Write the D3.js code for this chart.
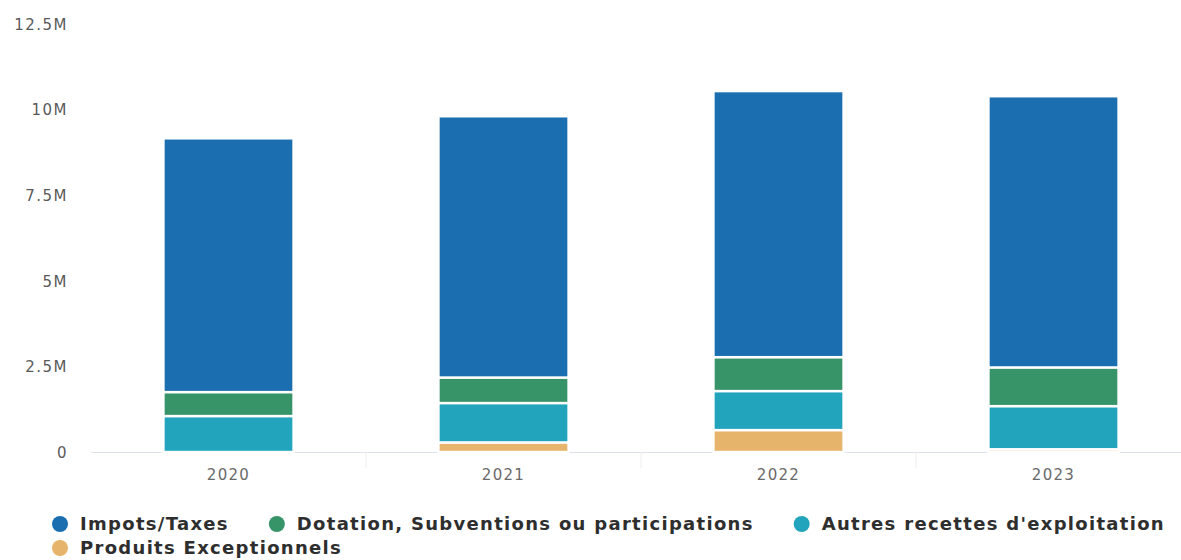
<!DOCTYPE html>
<html>
<head>
<meta charset="utf-8">
<script src="https://cdn.jsdelivr.net/npm/d3@7"></script>
<style>
  html, body { margin: 0; padding: 0; background: #fff; }
  svg { display: block; }
</style>
</head>
<body>
<svg id="chart" width="1181" height="560"></svg>
<script>
// ---- Data (values in euros) ----
const years = ["2020", "2021", "2022", "2023"];
const seriesNames = ["Produits Exceptionnels", "Autres recettes d'exploitation", "Dotation, Subventions ou participations", "Impots/Taxes"];
const produitsExceptionnels = [0, 280000, 640000, 80000];
const autresRecettes = [1050000, 1150000, 1140000, 1260000];
const dotations = [700000, 745000, 990000, 1130000];
const impotsTaxes = [7410000, 7630000, 7770000, 7920000];
const yTicks = [0, 2500000, 5000000, 7500000, 10000000, 12500000];
const legendOrder = ["Impots/Taxes", "Dotation, Subventions ou participations", "Autres recettes d'exploitation", "Produits Exceptionnels"];
const colors = {
  "Impots/Taxes": "#1b6fb0",
  "Dotation, Subventions ou participations": "#379468",
  "Autres recettes d'exploitation": "#22a4bd",
  "Produits Exceptionnels": "#e6b56b"
};

// table built from the arrays
const rows = years.map((y, i) => ({
  year: y,
  "Produits Exceptionnels": produitsExceptionnels[i],
  "Autres recettes d'exploitation": autresRecettes[i],
  "Dotation, Subventions ou participations": dotations[i],
  "Impots/Taxes": impotsTaxes[i]
}));

const svg = d3.select("#chart");
const zeroY = 452, topY = 24;
const y = d3.scaleLinear().domain([0, 12500000]).range([zeroY, topY]);
const x = d3.scaleBand().domain(years).range([91, 1191]).padding(0);
const barW = x.bandwidth() * 0.473;

// y axis labels
const yAxis = d3.axisLeft(y).tickValues(yTicks)
  .tickFormat(d => d === 0 ? "0" : (d / 1e6) + "M")
  .tickSize(0).tickPadding(0);
const gy = svg.append("g").attr("transform", "translate(68,0)").call(yAxis);
gy.select(".domain").remove();
gy.selectAll("text")
  .attr("font-family", "DejaVu Sans, sans-serif")
  .attr("font-size", 15)
  .attr("letter-spacing", "1.5px")
  .attr("fill", "#5a5a5a")
  .attr("dy", "0.35em");

// x axis
svg.append("line")
  .attr("x1", 91).attr("x2", 1181)
  .attr("y1", zeroY + 0.5).attr("y2", zeroY + 0.5)
  .attr("stroke", "#dde1e8").attr("stroke-width", 1.2);
years.slice(1).forEach(yr => {
  svg.append("line")
    .attr("x1", x(yr)).attr("x2", x(yr))
    .attr("y1", zeroY).attr("y2", zeroY + 16)
    .attr("stroke", "#eeeeee").attr("stroke-width", 1);
});
const xAxis = d3.axisBottom(x).tickSize(0).tickPadding(0);
const gx = svg.append("g").attr("transform", `translate(0,${zeroY + 23})`).call(xAxis);
gx.select(".domain").remove();
gx.selectAll("text")
  .attr("font-family", "DejaVu Sans, sans-serif")
  .attr("font-size", 15)
  .attr("letter-spacing", "1.3px")
  .attr("fill", "#6a6a6a")
  .attr("dy", "0.35em");

// stacked bars
const stack = d3.stack().keys(seriesNames);
const stacked = stack(rows);
svg.append("g").selectAll("g").data(stacked).join("g")
  .attr("fill", d => colors[d.key])
  .selectAll("rect").data(d => d).join("rect")
  .attr("x", d => x(d.data.year) + x.bandwidth() / 2 - barW / 2)
  .attr("width", barW)
  .attr("y", d => y(d[1]))
  .attr("height", d => Math.max(0, y(d[0]) - y(d[1])))
  .attr("stroke", "#ffffff")
  .attr("stroke-width", d => (d[1] - d[0]) > 0 ? 2.4 : 0);

// legend (flow layout)
const legend = svg.append("g");
let lx = 52, ly = 524;
const maxX = 1180;
legendOrder.forEach(name => {
  const g = legend.append("g");
  g.append("circle").attr("r", 8).attr("fill", colors[name]);
  const t = g.append("text")
    .attr("x", 20).attr("dy", "0.35em")
    .attr("font-family", "DejaVu Sans, sans-serif")
    .attr("font-weight", 700)
    .attr("font-size", 18)
    .attr("letter-spacing", "1.3px")
    .attr("fill", "#2e2e2e")
    .text(name);
  const w = t.node().getComputedTextLength() + 20;
  if (lx + 8 + w > maxX) { lx = 52; ly += 24; }
  g.attr("transform", `translate(${lx + 8},${ly})`);
  lx += 8 + w + 40;
});
</script>
</body>
</html>
